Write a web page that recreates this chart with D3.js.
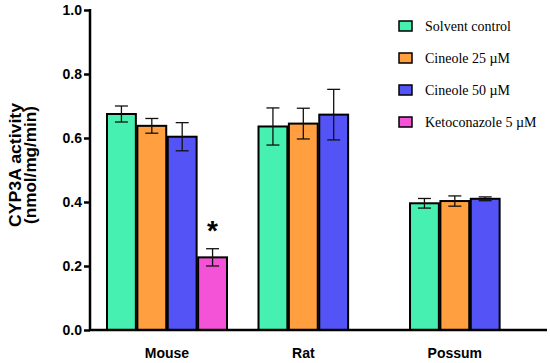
<!DOCTYPE html>
<html>
<head>
<meta charset="utf-8">
<script src="https://cdn.jsdelivr.net/npm/d3@7"></script>
<style>
  html, body { margin: 0; padding: 0; background: #fff; }
  svg { display: block; }
</style>
</head>
<body>
<div id="chart"></div>
<script>
// CYP3A activity by species and treatment
const groups = ["Mouse", "Rat", "Possum"];
const series = ["Solvent control", "Cineole 25 \u00b5M", "Cineole 50 \u00b5M", "Ketoconazole 5 \u00b5M"];
const colors = ["#46F0B0", "#FF9F40", "#5454F6", "#F553D7"];

// mean per group (Mouse, Rat, Possum); null = not measured
const solventMean = [0.675, 0.636, 0.396];
const cin25Mean   = [0.638, 0.645, 0.403];
const cin50Mean   = [0.604, 0.673, 0.410];
const ketoMean    = [0.227, null, null];

const solventErr = [0.025, 0.058, 0.015];
const cin25Err   = [0.023, 0.048, 0.016];
const cin50Err   = [0.044, 0.079, 0.006];
const ketoErr    = [0.027, null, null];

const yTicks = [0, 0.2, 0.4, 0.6, 0.8, 1.0];
const significant = [{ group: "Mouse", series: 3 }];

const means = [solventMean, cin25Mean, cin50Mean, ketoMean];
const errs = [solventErr, cin25Err, cin50Err, ketoErr];

const SANS = "Liberation Sans, Arial, sans-serif";
const W = 550, H = 363;
const svg = d3.select("#chart").append("svg").attr("width", W).attr("height", H);

const y = d3.scaleLinear().domain([0, 1]).range([330, 10]);
const x0 = d3.scaleBand().domain(groups).range([107, 530]).paddingInner(0.208).paddingOuter(0);
const x1 = d3.scaleBand().domain(d3.range(series.length)).range([0, x0.bandwidth()]).paddingInner(0.05);

const bars = [];
groups.forEach((g, gi) => {
  means.forEach((m, si) => {
    if (m[gi] == null) return;
    bars.push({ group: g, s: si, v: m[gi], e: errs[si][gi] });
  });
});

// bars
svg.append("g").selectAll("rect").data(bars).join("rect")
  .attr("x", d => x0(d.group) + x1(d.s))
  .attr("y", d => y(d.v))
  .attr("width", x1.bandwidth())
  .attr("height", d => y(0) - y(d.v))
  .attr("fill", d => colors[d.s])
  .attr("stroke", "#000")
  .attr("stroke-width", 2);

// error bars
const eb = svg.append("g").attr("stroke", "#111").attr("stroke-width", 1.3).attr("fill", "none");
bars.forEach(d => {
  const cx = x0(d.group) + x1(d.s) + x1.bandwidth() / 2;
  const cw = 6.5;
  eb.append("line").attr("x1", cx).attr("x2", cx).attr("y1", y(d.v + d.e)).attr("y2", y(d.v - d.e));
  eb.append("line").attr("x1", cx - cw).attr("x2", cx + cw).attr("y1", y(d.v + d.e)).attr("y2", y(d.v + d.e));
  eb.append("line").attr("x1", cx - cw).attr("x2", cx + cw).attr("y1", y(d.v - d.e)).attr("y2", y(d.v - d.e));
});

// significance marks
significant.forEach(s => {
  const gi = groups.indexOf(s.group);
  const top = means[s.series][gi] + errs[s.series][gi];
  svg.append("text")
    .attr("x", x0(s.group) + x1(s.series) + x1.bandwidth() / 2)
    .attr("y", y(top) - 9)
    .attr("text-anchor", "middle")
    .attr("font-family", SANS)
    .attr("font-weight", "bold")
    .attr("font-size", 28)
    .text("*");
});

// y axis
const yAxis = svg.append("g").attr("transform", "translate(90,0)")
  .call(d3.axisLeft(y).tickValues(yTicks).tickFormat(d3.format(".1f")).tickSize(6).tickPadding(2));
yAxis.select(".domain").attr("stroke", "#000").attr("stroke-width", 2.5).attr("d", `M0,${y(1) - 1}V${y(0) + 1}`);
yAxis.selectAll(".tick line").attr("stroke", "#000").attr("stroke-width", 2.5);
yAxis.selectAll(".tick text")
  .attr("font-family", SANS)
  .attr("font-weight", "bold").attr("font-size", 14).attr("fill", "#000");

// x axis line
svg.append("line").attr("x1", 89).attr("x2", 547).attr("y1", y(0)).attr("y2", y(0))
  .attr("stroke", "#000").attr("stroke-width", 2.5);

// group labels centred under present bars
groups.forEach((g, gi) => {
  const present = bars.filter(b => b.group === g);
  const left = d3.min(present, b => x0(g) + x1(b.s));
  const right = d3.max(present, b => x0(g) + x1(b.s) + x1.bandwidth());
  svg.append("text")
    .attr("x", (left + right) / 2).attr("y", 358)
    .attr("text-anchor", "middle")
    .attr("font-family", SANS)
    .attr("font-weight", "bold").attr("font-size", 14)
    .text(g);
});

// y title
const yt = svg.append("text")
  .attr("transform", "translate(0,165) rotate(-90)")
  .attr("text-anchor", "middle")
  .attr("font-family", SANS)
  .attr("font-weight", "bold").attr("font-size", 16);
yt.append("tspan").attr("x", 0).attr("y", 21)
  .attr("textLength", 124).attr("lengthAdjust", "spacingAndGlyphs").text("CYP3A activity");
yt.append("tspan").attr("x", 0).attr("y", 36)
  .attr("textLength", 118).attr("lengthAdjust", "spacingAndGlyphs").text("(nmol/mg/min)");

// legend
const lg = svg.append("g").attr("transform", "translate(399,26)");
series.forEach((s, i) => {
  const row = lg.append("g").attr("transform", `translate(0,${i * 32})`);
  row.append("rect").attr("x", 0).attr("y", -5).attr("width", 13).attr("height", 10)
    .attr("fill", colors[i]).attr("stroke", "#000").attr("stroke-width", 1.5);
  row.append("text").attr("x", 26).attr("y", 5)
    .attr("font-family", "Liberation Serif, Times New Roman, serif")
    .attr("font-size", 14)
    .text(s);
});
</script>
</body>
</html>
